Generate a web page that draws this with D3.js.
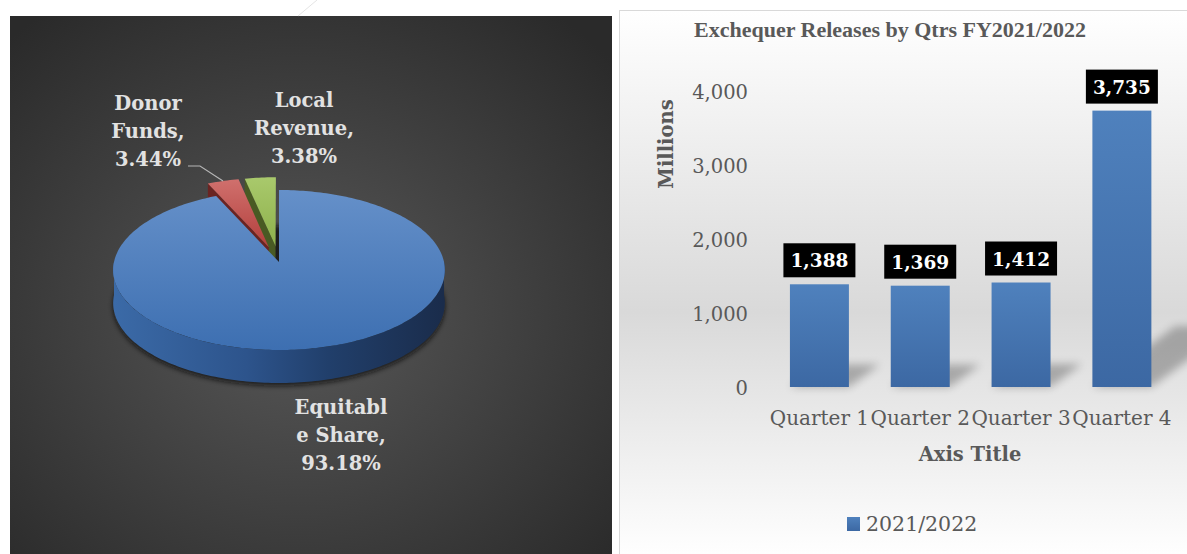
<!DOCTYPE html>
<html>
<head>
<meta charset="utf-8">
<script src="https://cdn.jsdelivr.net/npm/d3@7"></script>
<style>
  html, body { margin: 0; padding: 0; background: #ffffff; }
  svg { display: block; }
</style>
</head>
<body>
<svg id="chart" width="1187" height="554"></svg>
<script>
// ---- Funding sources: share of total (%) ----
const sources = ["Equitable Share", "Donor Funds", "Local Revenue"];
const shares = [93.18, 3.44, 3.38];
const sourceLabelLines = [
  ["Equitabl", "e Share,", "93.18%"],
  ["Donor", "Funds,", "3.44%"],
  ["Local", "Revenue,", "3.38%"]
];
const explodedSources = ["Donor Funds", "Local Revenue"];

// ---- Exchequer releases per quarter (millions) ----
const quarters = ["Quarter 1", "Quarter 2", "Quarter 3", "Quarter 4"];
const releases = [1388, 1369, 1412, 3735];
const yTicks = [0, 1000, 2000, 3000, 4000];
const seriesName = "2021/2022";
const chartTitle = "Exchequer Releases by Qtrs FY2021/2022";

const svg = d3.select("#chart");
const defs = svg.append("defs");

const serif = "'DejaVu Serif', serif";
const times = "'Liberation Serif', 'Times New Roman', serif";

// =====================================================================
// Left panel: 3-D pie on a dark radial background
// =====================================================================
const darkPanel = { x: 10, y: 16, w: 602, h: 538 };

const bgGrad = defs.append("radialGradient").attr("id", "darkBg")
  .attr("cx", "48%").attr("cy", "55%").attr("r", "70%");
bgGrad.append("stop").attr("offset", "0%").attr("stop-color", "#585858");
bgGrad.append("stop").attr("offset", "100%").attr("stop-color", "#2a2a2a");

svg.append("rect")
  .attr("x", darkPanel.x).attr("y", darkPanel.y)
  .attr("width", darkPanel.w).attr("height", darkPanel.h)
  .attr("fill", "url(#darkBg)");

// faint stray guide stroke above the panel
svg.append("line")
  .attr("x1", 298).attr("y1", 16).attr("x2", 317).attr("y2", 0)
  .attr("stroke", "#e4e4e4").attr("stroke-width", 1);

// perspective projection of the pie disc
const P = { cx: 279, cy: 262, rx: 165, ry: 79.2, D: 10, depth: 33 };
function proj(u, v, z) {
  const s = P.D / (P.D - v);
  return [P.cx + P.rx * u * s, P.cy + P.ry * v * s + z];
}
function rim(a, o, z) {
  return proj(o[0] + Math.sin(a), o[1] - Math.cos(a), z);
}
function arcPts(a0, a1, o, z) {
  const n = Math.max(2, Math.ceil(Math.abs(a1 - a0) / 0.02));
  return d3.range(n + 1).map(i => rim(a0 + (a1 - a0) * i / n, o, z));
}
const line = d3.line();

const pieGen = d3.pie().sort(null).value(d => d.value);
const arcs = pieGen(sources.map((s, i) => ({ name: s, value: shares[i], lines: sourceLabelLines[i] })));

const palette = {
  "Equitable Share": { top: ["#6590c9", "#3d6fb1"], side: "#2c5288", cut: "#1d3559" },
  "Donor Funds":     { top: ["#d0706d", "#b33f3c"], side: "#7c2b29", cut: "#6a2422" },
  "Local Revenue":   { top: ["#a9c96c", "#8db04b"], side: "#56692b", cut: "#495a23" }
};
Object.entries(palette).forEach(([name, c], i) => {
  const g = defs.append("linearGradient").attr("id", "top" + i)
    .attr("x1", 0).attr("y1", 0).attr("x2", 0).attr("y2", 1);
  g.append("stop").attr("offset", "0%").attr("stop-color", c.top[0]);
  g.append("stop").attr("offset", "100%").attr("stop-color", c.top[1]);
  c.topFill = "url(#top" + i + ")";
});
const wallGrad = defs.append("linearGradient").attr("id", "wallBlue")
  .attr("gradientUnits", "userSpaceOnUse")
  .attr("x1", P.cx - P.rx).attr("y1", 0).attr("x2", P.cx + P.rx).attr("y2", 0);
[["0%", "#3b6aa7"], ["40%", "#2d548c"], ["65%", "#213f6b"], ["100%", "#1a2c4b"]]
  .forEach(([o, c]) => wallGrad.append("stop").attr("offset", o).attr("stop-color", c));
palette["Equitable Share"].wallFill = "url(#wallBlue)";

const blur = defs.append("filter").attr("id", "pieShadow")
  .attr("x", "-20%").attr("y", "-20%").attr("width", "140%").attr("height", "140%");
blur.append("feGaussianBlur").attr("stdDeviation", 2.5);

const explode = 0.2;
arcs.forEach(a => {
  const mid = (a.startAngle + a.endAngle) / 2;
  const e = explodedSources.includes(a.data.name) ? explode : 0;
  a.offset = [e * Math.sin(mid), -e * Math.cos(mid)];
  a.colors = palette[a.data.name];
});

const pieG = svg.append("g");

// soft shadow under the main slice
pieG.append("path")
  .attr("d", line(arcPts(0, 2 * Math.PI, [0, 0], P.depth + 3)) + "Z")
  .attr("fill", "#0c0c0c").attr("opacity", 0.75)
  .attr("filter", "url(#pieShadow)");

function drawSlice(a) {
  const g = pieG.append("g");
  const o = a.offset, c = a.colors;
  const center = proj(o[0], o[1], 0), centerLow = proj(o[0], o[1], P.depth);
  // radial cut faces that turn towards the viewer
  [[a.startAngle, Math.sin(a.startAngle) < -1e-6], [a.endAngle, Math.sin(a.endAngle) > 1e-6]]
    .forEach(([ang, visible]) => {
      if (!visible) return;
      const pts = [center, rim(ang, o, 0), rim(ang, o, P.depth), centerLow];
      g.append("path").attr("d", line(pts) + "Z").attr("fill", c.cut);
    });
  // front wall
  const w0 = Math.max(a.startAngle, Math.PI / 2), w1 = Math.min(a.endAngle, 3 * Math.PI / 2);
  if (w1 > w0) {
    const pts = arcPts(w0, w1, o, 0).concat(arcPts(w1, w0, o, P.depth));
    g.append("path").attr("d", line(pts) + "Z").attr("fill", c.wallFill || c.side);
  }
  // top face
  const topPts = [center].concat(arcPts(a.startAngle, a.endAngle, o, 0));
  g.append("path").attr("d", line(topPts) + "Z").attr("fill", c.topFill);
}
// back slices first, front slice last
[arcs[2], arcs[1], arcs[0]].forEach(drawSlice);

// data labels
const pieLabelPos = {
  "Equitable Share": [341, 414],
  "Donor Funds": [148, 110],
  "Local Revenue": [304, 107]
};
arcs.forEach(a => {
  const [lx, ly] = pieLabelPos[a.data.name];
  const t = svg.append("text")
    .attr("x", lx).attr("y", ly)
    .attr("text-anchor", "middle")
    .attr("font-family", serif).attr("font-weight", "bold")
    .attr("font-size", 19.5).attr("fill", "#e2e2e2");
  a.data.lines.forEach((ln, i) => {
    t.append("tspan").attr("x", lx).attr("dy", i === 0 ? 0 : 28).text(ln);
  });
});
// leader line for the donor funds label
const donor = arcs[1];
const donorMid = (donor.startAngle + donor.endAngle) / 2;
const leaderEnd = rim(donorMid, donor.offset, 0);
svg.append("path")
  .attr("d", line([[188, 166], [200, 166], leaderEnd]))
  .attr("fill", "none").attr("stroke", "#b5b5b5").attr("stroke-width", 1.2);

// =====================================================================
// Right panel: column chart
// =====================================================================
const panel = { x: 619.5, y: 10.5, w: 570, h: 548 };
const panelGrad = defs.append("linearGradient").attr("id", "panelBg")
  .attr("x1", 0).attr("y1", 0).attr("x2", 0).attr("y2", 1);
[["0%", "#ffffff"], ["55%", "#d9d9d9"], ["100%", "#ffffff"]]
  .forEach(([o, c]) => panelGrad.append("stop").attr("offset", o).attr("stop-color", c));
svg.append("rect")
  .attr("x", panel.x).attr("y", panel.y).attr("width", panel.w).attr("height", panel.h)
  .attr("fill", "url(#panelBg)").attr("stroke", "#d9d9d9").attr("stroke-width", 1);

defs.append("clipPath").attr("id", "panelClip")
  .append("rect").attr("x", 620).attr("y", 11).attr("width", 567).attr("height", 543);

svg.append("text")
  .attr("x", 890).attr("y", 37).attr("text-anchor", "middle")
  .attr("font-family", times).attr("font-weight", "bold")
  .attr("font-size", 22).attr("fill", "#595959")
  .text(chartTitle);

const x = d3.scaleBand().domain(quarters).range([769, 1172.3])
  .paddingInner(0.415).paddingOuter(0.2075);
const y = d3.scaleLinear().domain([0, 4000]).range([387, 91]);

// bar shadows (sheared, blurred)
const shBlur = defs.append("filter").attr("id", "barShadow")
  .attr("x", "-50%").attr("y", "-50%").attr("width", "200%").attr("height", "200%");
shBlur.append("feGaussianBlur").attr("stdDeviation", 4);
const shadowG = svg.append("g").attr("clip-path", "url(#panelClip)");
quarters.forEach((q, i) => {
  const x0 = x(q), x1 = x(q) + x.bandwidth(), base = y(0), h = y(0) - y(releases[i]);
  const pts = [[x0, base], [x1, base], [x1 + 0.3 * h, base - 0.22 * h], [x0 + 0.3 * h, base - 0.22 * h]];
  shadowG.append("path").attr("d", line(pts) + "Z")
    .attr("fill", "#000").attr("opacity", 0.26).attr("filter", "url(#barShadow)");
});

const barGrad = defs.append("linearGradient").attr("id", "barFill")
  .attr("x1", 0).attr("y1", 0).attr("x2", 0).attr("y2", 1);
barGrad.append("stop").attr("offset", "0%").attr("stop-color", "#4f81bd");
barGrad.append("stop").attr("offset", "100%").attr("stop-color", "#3c68a3");

svg.append("g").selectAll("rect")
  .data(quarters).join("rect")
  .attr("x", q => x(q)).attr("width", x.bandwidth())
  .attr("y", (q, i) => y(releases[i]))
  .attr("height", (q, i) => y(0) - y(releases[i]))
  .attr("fill", "url(#barFill)");

// value labels in black boxes
const fmt = d3.format(",");
const lbl = svg.append("g").selectAll("g").data(quarters).join("g")
  .attr("transform", (q, i) => `translate(${x(q) + x.bandwidth() / 2},${y(releases[i]) - 7})`);
lbl.append("rect").attr("x", -36).attr("y", -34).attr("width", 72).attr("height", 34).attr("fill", "#000");
lbl.append("text").attr("x", 0).attr("y", -10).attr("text-anchor", "middle")
  .attr("font-family", serif).attr("font-weight", "bold").attr("font-size", 18.5)
  .attr("fill", "#ffffff")
  .text((q, i) => fmt(releases[i]));

// y axis (labels only)
const yAxis = svg.append("g").attr("transform", "translate(748,0)")
  .call(d3.axisLeft(y).tickValues(yTicks).tickFormat(fmt).tickSize(0).tickPadding(0));
yAxis.select(".domain").remove();
yAxis.selectAll("text")
  .attr("font-family", serif).attr("font-size", 19.5).attr("fill", "#595959")
  .attr("dy", "0.36em");

// x axis (labels only)
const xAxis = svg.append("g").attr("transform", "translate(0,425)")
  .call(d3.axisBottom(x).tickSize(0).tickPadding(0));
xAxis.select(".domain").remove();
xAxis.selectAll("text")
  .attr("font-family", serif).attr("font-size", 20).attr("fill", "#595959")
  .attr("dy", 0);

svg.append("text")
  .attr("x", 970).attr("y", 461).attr("text-anchor", "middle")
  .attr("font-family", serif).attr("font-weight", "bold").attr("font-size", 19.5)
  .attr("fill", "#595959").text("Axis Title");

svg.append("text")
  .attr("transform", "translate(673,144) rotate(-90)")
  .attr("text-anchor", "middle")
  .attr("font-family", serif).attr("font-weight", "bold").attr("font-size", 19.5)
  .attr("fill", "#595959").text("Millions");

// legend
svg.append("rect").attr("x", 847).attr("y", 517).attr("width", 13).attr("height", 14)
  .attr("fill", "url(#barFill)");
svg.append("text").attr("x", 866).attr("y", 531)
  .attr("font-family", serif).attr("font-size", 20.5).attr("fill", "#595959")
  .text(seriesName);
</script>
</body>
</html>
